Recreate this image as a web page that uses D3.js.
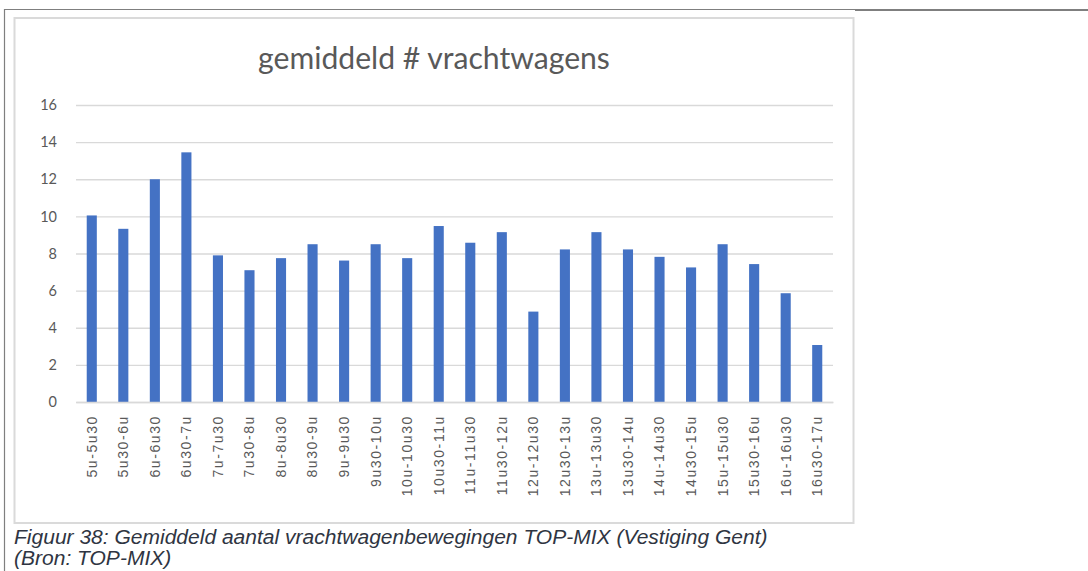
<!DOCTYPE html>
<html>
<head>
<meta charset="utf-8">
<script src="https://cdn.jsdelivr.net/npm/d3@7"></script>
<style>
  html, body { margin: 0; padding: 0; background: #ffffff; }
  svg { display: block; }
</style>
</head>
<body>
<svg id="chart" width="1088" height="571"></svg>
<script>
const chartTitle = "gemiddeld # vrachtwagens";
const categories = ["5u-5u30","5u30-6u","6u-6u30","6u30-7u","7u-7u30","7u30-8u","8u-8u30","8u30-9u","9u-9u30","9u30-10u","10u-10u30","10u30-11u","11u-11u30","11u30-12u","12u-12u30","12u30-13u","13u-13u30","13u30-14u","14u-14u30","14u30-15u","15u-15u30","15u30-16u","16u-16u30","16u30-17u"];
const values = [10.05, 9.33, 12.0, 13.45, 7.9, 7.1, 7.75, 8.5, 7.62, 8.5, 7.75, 9.48, 8.58, 9.15, 4.87, 8.22, 9.15, 8.22, 7.82, 7.25, 8.5, 7.43, 5.86, 3.07];
const yTicks = [0, 2, 4, 6, 8, 10, 12, 14, 16];
const captionLines = ["Figuur 38: Gemiddeld aantal vrachtwagenbewegingen TOP-MIX (Vestiging Gent)", "(Bron: TOP-MIX)"];

const svg = d3.select("#chart");

// page frame lines
svg.append("line").attr("x1", 4).attr("x2", 855).attr("y1", 9.5).attr("y2", 9.5)
  .attr("stroke", "#7f7f7f").attr("stroke-width", 1.2);
svg.append("line").attr("x1", 855).attr("x2", 1088).attr("y1", 10).attr("y2", 10)
  .attr("stroke", "#7f7f7f").attr("stroke-width", 2);
svg.append("line").attr("x1", 4.5).attr("x2", 4.5).attr("y1", 9).attr("y2", 571)
  .attr("stroke", "#7f7f7f").attr("stroke-width", 1.2);

// chart box
svg.append("rect").attr("x", 14.5).attr("y", 18).attr("width", 839).attr("height", 505)
  .attr("fill", "#ffffff").attr("stroke", "#dadada").attr("stroke-width", 2);

const pLeft = 76, pRight = 833, pTop = 105, pBottom = 402;

const x = d3.scaleBand().domain(categories).range([pLeft, pRight])
  .paddingInner(0.68).paddingOuter(0.34);
const y = d3.scaleLinear().domain([0, 16]).range([pBottom, pTop]);

// title
const title = svg.append("text").text(chartTitle)
  .attr("x", 434).attr("y", 69)
  .attr("text-anchor", "middle")
  .attr("fill", "#595959")
  .style("font-family", "Lato, 'Open Sans', sans-serif")
  .style("font-size", "26px");
{
  const w = title.node().getComputedTextLength();
  const fs = 26 * 352 / w;
  title.style("font-size", fs.toFixed(2) + "px");
}

// y axis with gridlines
const yAxis = svg.append("g").attr("transform", `translate(${pLeft},0)`)
  .call(d3.axisLeft(y).tickValues(yTicks).tickSize(-(pRight - pLeft)).tickPadding(19));
yAxis.select(".domain").remove();
yAxis.selectAll(".tick line").attr("stroke", "#d9d9d9").attr("stroke-width", 1.3);
yAxis.selectAll(".tick text").attr("fill", "#595959")
  .style("font-family", "Lato, 'Open Sans', sans-serif").style("font-size", "14.5px");

// bars
svg.append("g").selectAll("rect").data(values).join("rect")
  .attr("x", (d, i) => x(categories[i]))
  .attr("width", x.bandwidth())
  .attr("y", d => y(d))
  .attr("height", d => y(0) - y(d))
  .attr("fill", "#4472c4");

// x axis
const xAxis = svg.append("g").attr("transform", `translate(0,${pBottom})`)
  .call(d3.axisBottom(x).tickSize(0).tickPadding(0));
xAxis.select(".domain").attr("stroke", "#d9d9d9").attr("stroke-width", 1.3);
xAxis.selectAll(".tick text")
  .attr("fill", "#595959")
  .style("font-family", "'Liberation Sans', Arial, sans-serif")
  .style("font-size", "14px")
  .style("letter-spacing", "1.6px")
  .attr("text-anchor", "end")
  .attr("transform", "rotate(-90)")
  .attr("x", -13)
  .attr("y", 0)
  .attr("dy", "0.35em");

// caption
const cap = svg.append("g").selectAll("text").data(captionLines).join("text")
  .attr("x", 14)
  .attr("y", (d, i) => 544 + i * 21)
  .attr("fill", "#2f3542")
  .style("font-family", "'Liberation Sans', Arial, sans-serif")
  .style("font-style", "italic")
  .style("font-size", "19.5px")
  .text(d => d);
{
  const w0 = cap.nodes()[0].getComputedTextLength();
  const sx = 754 / w0;
  cap.attr("x", 0).attr("transform", `translate(14,0) scale(${sx},1)`);
}
</script>
</body>
</html>
